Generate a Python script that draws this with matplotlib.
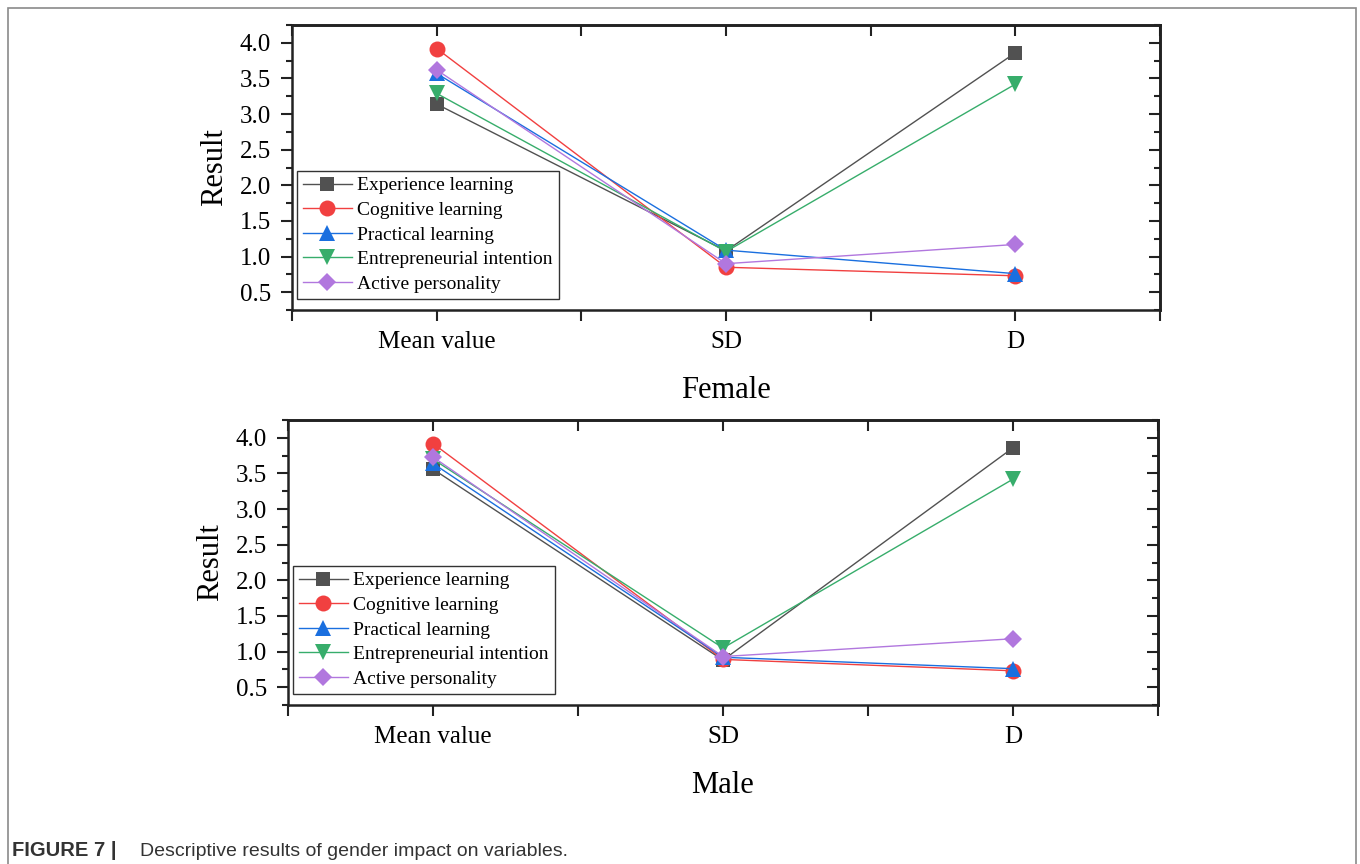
import numpy as np
import matplotlib.pyplot as plt
from matplotlib.patches import Rectangle
from matplotlib.ticker import MultipleLocator

# categories and series
categories = ["Mean value", "SD", "D"]
series_names = ["Experience learning", "Cognitive learning", "Practical learning",
                "Entrepreneurial intention", "Active personality"]

female_experience = [3.14, 1.08, 3.86]
female_cognitive = [3.92, 0.85, 0.73]
female_practical = [3.57, 1.09, 0.76]
female_entrepreneurial = [3.29, 1.07, 3.42]
female_active = [3.62, 0.90, 1.17]

male_experience = [3.56, 0.88, 3.86]
male_cognitive = [3.92, 0.89, 0.73]
male_practical = [3.64, 0.92, 0.76]
male_entrepreneurial = [3.70, 1.05, 3.42]
male_active = [3.73, 0.93, 1.18]

panels = [
    ("Female", [female_experience, female_cognitive, female_practical,
                female_entrepreneurial, female_active]),
    ("Male", [male_experience, male_cognitive, male_practical,
              male_entrepreneurial, male_active]),
]

colors = ["#515151", "#F14040", "#1A6FDF", "#37AD6B", "#B177DE"]
markers = ["s", "o", "^", "v", "D"]
msizes = [10.5, 11.5, 11, 11, 9.5]

plt.rcParams['font.family'] = ['Liberation Serif', 'DejaVu Serif']

fig = plt.figure(figsize=(13.6, 8.64), dpi=100)

# outer grey frame
fig.patches.append(Rectangle((8 / 1360, -0.02), 1348 / 1360, 1 - 8 / 864 + 0.02,
                             transform=fig.transFigure, fill=False,
                             edgecolor="#8a8a8a", lw=1.2))

boxes = [[292 / 1360, 1 - 310 / 864, 868 / 1360, 285 / 864],
         [288 / 1360, 1 - 705 / 864, 870 / 1360, 285 / 864]]

x = np.arange(len(categories))

for (title, data), box in zip(panels, boxes):
    ax = fig.add_axes(box)
    for vals, name, c, m, s in zip(data, series_names, colors, markers, msizes):
        ax.plot(x, vals, color=c, lw=1.0, marker=m, markersize=s,
                markeredgewidth=0, label=name)
    ax.set_xlim(-0.5, 2.5)
    ax.set_ylim(0.25, 4.25)
    ax.set_xticks(x)
    ax.set_xticklabels(categories)
    ax.xaxis.set_minor_locator(MultipleLocator(0.5))
    ax.yaxis.set_major_locator(MultipleLocator(0.5))
    ax.yaxis.set_minor_locator(MultipleLocator(0.25))
    ax.yaxis.set_major_formatter(plt.FormatStrFormatter('%.1f'))
    ax.tick_params(which='major', direction='out', length=8, width=1.5,
                   labelsize=18, pad=7, color='#222222')
    ax.tick_params(which='minor', direction='out', length=4.5, width=1.5, color='#222222')
    ax.tick_params(axis='x', which='minor', length=8)
    for sp in ax.spines.values():
        sp.set_linewidth(1.8)
        sp.set_color('#222222')

    # mirrored ticks pointing inward on top and right
    top = ax.secondary_xaxis('top')
    top.set_xticks(x)
    top.xaxis.set_minor_locator(MultipleLocator(0.5))
    top.tick_params(which='both', direction='in', length=8, width=1.5,
                    labeltop=False, color='#222222')
    top.spines['top'].set_linewidth(1.8)
    right = ax.secondary_yaxis('right')
    right.yaxis.set_major_locator(MultipleLocator(0.5))
    right.yaxis.set_minor_locator(MultipleLocator(0.25))
    right.tick_params(which='major', direction='in', length=8, width=1.5,
                      labelright=False, color='#222222')
    right.tick_params(which='minor', direction='in', length=4.5, width=1.5,
                      color='#222222')
    right.spines['right'].set_linewidth(1.8)

    ax.set_ylabel("Result", fontsize=22, labelpad=8)
    ax.set_xlabel(title, fontsize=22, labelpad=17)

    leg = ax.legend(loc='lower left', bbox_to_anchor=(0.006, 0.04), borderaxespad=0,
                    fontsize=14, frameon=True, fancybox=False, handlelength=2.5,
                    handletextpad=0.3, labelspacing=0.36, borderpad=0.3)
    leg.get_frame().set_edgecolor('black')
    leg.get_frame().set_linewidth(1.0)

fig.text(12 / 1360, 1 - 851 / 864, "FIGURE 7 |", fontsize=14.5, fontweight='bold',
         family='Liberation Sans', va='center', color='#333333')
fig.text(140 / 1360, 1 - 851 / 864, "Descriptive results of gender impact on variables.",
         fontsize=14, family='Liberation Sans', va='center', color='#333333')

fig.savefig("out.png", dpi=100)
